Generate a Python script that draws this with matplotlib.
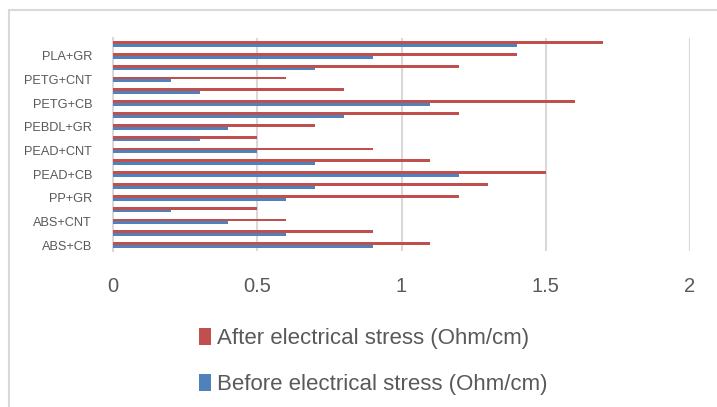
import numpy as np
from matplotlib import pyplot as plt
from matplotlib.patches import Rectangle

# categories from bottom to top (Excel only prints every other label)
categories = ["ABS+CB", "ABS+GR", "ABS+CNT",
              "PP+CB", "PP+GR", "PP+CNT",
              "PEAD+CB", "PEAD+GR", "PEAD+CNT",
              "PEBDL+CB", "PEBDL+GR", "PEBDL+CNT",
              "PETG+CB", "PETG+GR", "PETG+CNT",
              "PLA+CB", "PLA+GR", "PLA+CNT"]
before = [0.9, 0.6, 0.4, 0.2, 0.6, 0.7, 1.2, 0.7, 0.5,
          0.3, 0.4, 0.8, 1.1, 0.3, 0.2, 0.7, 0.9, 1.4]
after = [1.1, 0.9, 0.6, 0.5, 1.2, 1.3, 1.5, 1.1, 0.9,
         0.5, 0.7, 1.2, 1.6, 0.8, 0.6, 1.2, 1.4, 1.7]
xticks = [0, 0.5, 1, 1.5, 2]
xlabels = ["0", "0.5", "1", "1.5", "2"]

plt.rcParams['font.family'] = ['Liberation Sans', 'DejaVu Sans']
BLUE = "#4F81BD"
RED = "#C0504D"
GRID = "#D9D9D9"
TXT = "#595959"

W, H = 717, 407
fig = plt.figure(figsize=(W / 100, H / 100), dpi=100)
ax = fig.add_axes([113 / W, 1 - 251 / H, (690 - 113) / W, (251 - 38) / H])

y = np.arange(len(categories))
h = 0.24
b1 = ax.barh(y - h / 2, before, height=h, color=BLUE, label="Before electrical stress (Ohm/cm)", zorder=3)
b2 = ax.barh(y + h / 2, after, height=h, color=RED, label="After electrical stress (Ohm/cm)", zorder=3)

ax.set_xlim(0, 2)
ax.set_ylim(-0.5, len(categories) - 0.5)
ax.set_xticks(xticks)
ax.set_xticklabels(xlabels, fontsize=14.5, color=TXT)
ax.set_yticks(y[::2])
ax.set_yticklabels(categories[::2], fontsize=9.2, color=TXT)
ax.tick_params(axis='x', length=0, pad=19)
ax.tick_params(axis='y', length=0, pad=15)
ax.grid(axis='x', color=GRID, linewidth=1.5, zorder=0)
for s in ["top", "right", "bottom"]:
    ax.spines[s].set_visible(False)
ax.spines["left"].set_color(GRID)
ax.spines["left"].set_linewidth(1.5)

# chart-area border, cut off at the right and bottom
fig.add_artist(Rectangle((9 / W, -0.2), 1.2, 1.2 - 10 / H, transform=fig.transFigure,
                         fill=False, edgecolor=GRID, linewidth=1.5))

fig.legend([b2, b1], [b2.get_label(), b1.get_label()],
           loc="upper left", bbox_to_anchor=(188 / W, 1 - 317 / H),
           frameon=False, fontsize=16, labelcolor=TXT,
           handlelength=0.55, handleheight=0.8, handletextpad=0.25,
           labelspacing=1.1, borderpad=0)

plt.savefig("out.png", dpi=100)
